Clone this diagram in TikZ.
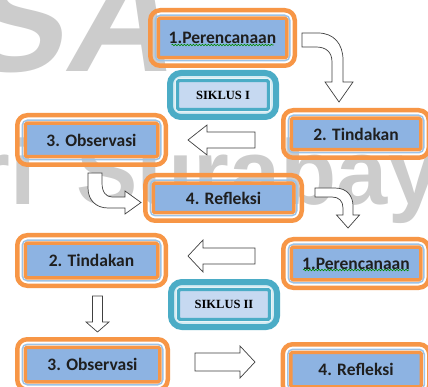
\documentclass[tikz,border=0pt]{standalone}
\usepackage{fontspec}
\newfontfamily\calfont{Carlito}
\newfontfamily\serfont{Liberation Serif}
\newfontfamily\wmfont{Liberation Sans}
\usetikzlibrary{decorations.pathmorphing}
\definecolor{orng}{HTML}{F79646}
\definecolor{boxblue}{HTML}{8DB3E2}
\definecolor{ringblue}{HTML}{9DC3E6}
\definecolor{tealc}{HTML}{4BACC6}
\definecolor{sring}{HTML}{D5ECF3}
\definecolor{sfill}{HTML}{C6D9F1}
\definecolor{wmgray}{HTML}{CCCCCC}
\definecolor{arrline}{HTML}{404040}
\definecolor{txt}{HTML}{1F1F1F}
\newcommand\OrBox[6]{%
  \node[inbox, minimum width={#4pt-20.5pt}, minimum height={#5pt-20.5pt}] (#1) at (#2,#3) {#6};
  \draw[midring] ([shift={(-3pt,3pt)}]#1.north west) rectangle ([shift={(3pt,-3pt)}]#1.south east);
  \draw[outring] ([shift={(-8pt,8pt)}]#1.north west) rectangle ([shift={(8pt,-8pt)}]#1.south east);
}
\newcommand\SkBox[6]{%
  \node[sbox, minimum width={#4pt-21pt}, minimum height={#5pt-21pt}] (#1) at (#2,#3) {#6};
  \draw[smidring] ([shift={(-3.5pt,3.5pt)}]#1.north west) rectangle ([shift={(3.5pt,-3.5pt)}]#1.south east);
  \draw[souter] ([shift={(-7.5pt,7.5pt)}]#1.north west) rectangle ([shift={(7.5pt,-7.5pt)}]#1.south east);
}
\begin{document}
\begin{tikzpicture}[x=1pt,y=-1pt,
  inbox/.style={draw=orng, line width=3.5pt, fill=boxblue, rounded corners=1.5pt, inner sep=0pt, outer sep=0pt,
    font=\calfont\bfseries\fontsize{17.5}{20}\selectfont, text=txt},
  outring/.style={draw=orng, line width=4.5pt, rounded corners=10pt},
  midring/.style={draw=ringblue, line width=1.5pt, rounded corners=5pt},
  sbox/.style={draw=tealc, line width=3.3pt, fill=sfill, rounded corners=1.5pt, inner sep=0pt, outer sep=0pt,
    font=\serfont\bfseries\fontsize{12.5}{14}\selectfont, text=black},
  smidring/.style={draw=sring, line width=2pt, rounded corners=5pt},
  souter/.style={draw=tealc, line width=6pt, rounded corners=11pt},
  blockarrow/.style={draw=arrline, line width=0.7pt, fill=white, line join=miter},
  squig/.style={draw=green!55!black, line width=0.6pt, decorate, decoration={snake, amplitude=0.8pt, segment length=3pt}},
  wm/.style={text=wmgray, inner sep=0pt}]
\useasboundingbox (0,0) rectangle (428,387);
\clip (0,0) rectangle (428,387);
\fill[white] (0,0) rectangle (428,387);
% watermark
\node[wm, anchor=base east, xslant=0.2, font=\wmfont\bfseries\fontsize{150}{150}\selectfont] (wmS) at (62,72) {S};
\node[wm, anchor=base west, xslant=0.2, font=\wmfont\bfseries\fontsize{150}{150}\selectfont] (wmA) at (62,72) {A};
\node[wm, anchor=base east, font=\wmfont\bfseries\fontsize{92}{92}\selectfont] (wmN) at (36,205) {Negeri};
\node[wm, anchor=base west, font=\wmfont\bfseries\fontsize{92}{92}\selectfont] (wmB) at (76,205) {Surabaya};
% boxes
\OrBox{p1}{222.5}{38}{149}{60}{1.Perencanaan}
\OrBox{o1}{91.5}{140}{153}{54}{3. Observasi}
\OrBox{t1}{356}{134}{150}{52}{2. Tindakan}
\OrBox{r1}{223.5}{198}{161}{50}{4. Refleksi}
\OrBox{t2}{91.5}{260.5}{153}{55}{2. Tindakan}
\OrBox{p2}{356}{263.5}{150}{53}{1.Perencanaan}
\OrBox{o2}{92.5}{364.5}{155}{55}{3. Observasi}
\OrBox{r2}{356}{369.5}{151}{55}{4. Refleksi}
\SkBox{s1}{223}{95}{112}{50}{SIKLUS I}
\SkBox{s2}{224}{304.5}{112}{51}{SIKLUS II}
% spell-check squiggles
\draw[squig] ([shift={(-51pt,-7pt)}]p1.center) -- ([shift={(51pt,-7pt)}]p1.center);
\draw[squig] ([shift={(-53pt,-6.5pt)}]p2.center) -- ([shift={(53pt,-6.5pt)}]p2.center);
% block arrows
\draw[blockarrow] (302,33) -- (318,33) .. controls (334,33) and (343,44) .. (343,60) -- (343,82) -- (353,82) -- (339,102) -- (325,82) -- (332,82) -- (332,62) .. controls (332,52) and (326,47) .. (316,47) -- (302,47) -- cycle;
\draw[blockarrow] (255,132) -- (207,132) -- (207,125) -- (188,140) -- (207,155) -- (207,148) -- (255,148) -- cycle;
\draw[blockarrow] (88,173) -- (102,173) -- (102,183) .. controls (102,192) and (106,197) .. (112,197) -- (125,197) -- (125,191) -- (141,202.5) -- (125,214) -- (125,208) -- (108,208) .. controls (96,208) and (88,200) .. (88,188) -- cycle;
\draw[blockarrow] (315,188) -- (335,188) .. controls (347,188) and (353,196) .. (353,206) -- (353,215) -- (359.5,215) -- (348,228) -- (336.5,215) -- (343,215) -- (343,208) .. controls (343,201) and (339,197) .. (332,197) -- (315,197) -- cycle;
\draw[blockarrow] (255,248) -- (203,248) -- (203,240) -- (188,256) -- (203,272) -- (203,264) -- (255,264) -- cycle;
\draw[blockarrow] (92.5,296) -- (102.5,296) -- (102.5,322) -- (109,322) -- (97.5,332) -- (86,322) -- (92.5,322) -- cycle;
\draw[blockarrow] (195,353) -- (240,353) -- (240,346) -- (255,362) -- (240,378) -- (240,371) -- (195,371) -- cycle;
\end{tikzpicture}
\end{document}
